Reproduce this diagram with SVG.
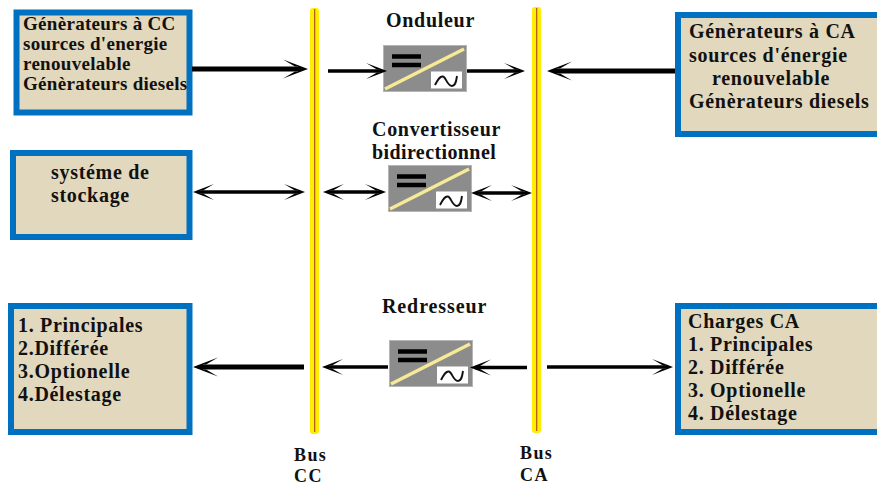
<svg xmlns="http://www.w3.org/2000/svg" xmlns:xlink="http://www.w3.org/1999/xlink" width="877" height="486" viewBox="0 0 877 486">
<style>
.box{fill:#e1d8bd;stroke:#0070c0;stroke-width:6}
.t{font-family:"Liberation Serif","Times New Roman",serif;font-weight:bold;font-size:20px;fill:#111;letter-spacing:.7px}
.n{font-size:19px;letter-spacing:.3px}
.b{font-size:18px;letter-spacing:1.4px}
.bus{fill:#ffee00}
.core{stroke:#b0501a;stroke-width:1.2}
.c1{stroke:#000;fill:none}
</style>
<defs>
<marker id="h" markerUnits="userSpaceOnUse" markerWidth="36" markerHeight="20" viewBox="-26 -10 36 20" refX="0" refY="0" orient="auto-start-reverse"><path d="M8 0L-17-9.500L-5-2.500H-2V2.500H-5L-17 9.500Z" fill="#000"/></marker>
<marker id="s" markerUnits="userSpaceOnUse" markerWidth="30" markerHeight="18" viewBox="-22 -9 30 18" refX="0" refY="0" orient="auto-start-reverse"><path d="M5 0L-16-8L-5-1.500H-2V1.500H-5L-16 8Z" fill="#000"/></marker>
<g id="conv">
<rect x=".5" y=".5" width="83" height="46" fill="#8c8c8c" stroke="#b5b5b5"/>
<path d="M2 44L81 4" stroke="#f7ea96" stroke-width="3.500"/>
<path d="M9 11.500H38M9 20H38" stroke="#000" stroke-width="4.500"/>
<rect x="48" y="26.500" width="31" height="17" fill="#fff"/>
<path d="M52 40C55 34 57 31 60 31.500C63 32 64 41 69 41C72 41 73 38 74 31" fill="none" stroke="#111" stroke-width="1.900"/>
</g>
</defs>
<rect width="877" height="486" fill="#fff"/>
<g id="bus-cc"><rect class="bus" x="310" y="8" width="9" height="426" rx="3"/><path class="core" d="M314.700 9V432"/><text class="t b" x="294" y="461">Bus</text><text class="t b" x="294" y="482">CC</text></g>
<g id="bus-ca"><rect class="bus" x="532" y="7" width="9" height="426" rx="3"/><path class="core" d="M536.700 8V431"/><text class="t b" x="520" y="459">Bus</text><text class="t b" x="520" y="481">CA</text></g>
<g id="gen-cc"><rect class="box" x="16.500" y="12.500" width="173" height="100"/>
<text class="t n" x="23" y="30">Génèrateurs à CC</text><text class="t n" x="23" y="50">sources d'energie</text><text class="t n" x="23" y="70">renouvelable</text><text class="t n" x="23" y="90">Génèrateurs diesels</text></g>
<g id="stockage"><rect class="box" x="13" y="153" width="176.500" height="84"/>
<text class="t" x="51" y="179">systéme de</text><text class="t" x="51" y="202">stockage</text></g>
<g id="charges-cc"><rect class="box" x="11" y="306" width="178.500" height="126"/>
<text class="t" x="18" y="332">1. Principales</text><text class="t" x="18" y="355">2.Différée</text><text class="t" x="18" y="378">3.Optionelle</text><text class="t" x="18" y="401">4.Délestage</text></g>
<g id="gen-ca"><rect class="box" x="678" y="15" width="205" height="119"/>
<text class="t" x="689" y="38">Génèrateurs à CA</text><text class="t" x="689" y="62">sources d'énergie</text><text class="t" x="712" y="85">renouvelable</text><text class="t" x="689" y="108">Génèrateurs diesels</text></g>
<g id="charges-ca"><rect class="box" x="678" y="306" width="205" height="126"/>
<text class="t" x="688" y="328">Charges CA</text><text class="t" x="688" y="351">1. Principales</text><text class="t" x="688" y="374">2. Différée</text><text class="t" x="688" y="397">3. Optionelle</text><text class="t" x="688" y="420">4. Délestage</text></g>
<g id="onduleur"><use xlink:href="#conv" href="#conv" x="383" y="45"/><text class="t" x="386" y="27">Onduleur</text></g>
<g id="convertisseur"><use xlink:href="#conv" href="#conv" x="388" y="165"/><text class="t" x="372" y="136">Convertisseur</text><text class="t" x="372" y="159" style="letter-spacing:.4px">bidirectionnel</text></g>
<g id="redresseur"><use xlink:href="#conv" href="#conv" x="389" y="340"/><text class="t" x="382" y="313" style="letter-spacing:.9px">Redresseur</text></g>
<g id="connectors" class="c1">
<path d="M192 69H300" stroke-width="5" marker-end="url(#h)"/>
<path d="M328 71H382" stroke-width="3.500" marker-end="url(#s)"/>
<path d="M467 71H520" stroke-width="3.500" marker-end="url(#s)"/>
<path d="M675 71H555" stroke-width="5" marker-end="url(#h)"/>
<path d="M198 192H300" stroke-width="3.500" marker-start="url(#s)" marker-end="url(#s)"/>
<path d="M328 192H381" stroke-width="3.500" marker-start="url(#s)" marker-end="url(#s)"/>
<path d="M476 193H527" stroke-width="3.500" marker-start="url(#s)" marker-end="url(#s)"/>
<path d="M304 367H201" stroke-width="5" marker-end="url(#h)"/>
<path d="M388 367H327" stroke-width="3.500" marker-end="url(#s)"/>
<path d="M527 367.500H475" stroke-width="3.500" marker-end="url(#s)"/>
<path d="M547 367H668" stroke-width="3.500" marker-end="url(#s)"/>
</g>
</svg>
